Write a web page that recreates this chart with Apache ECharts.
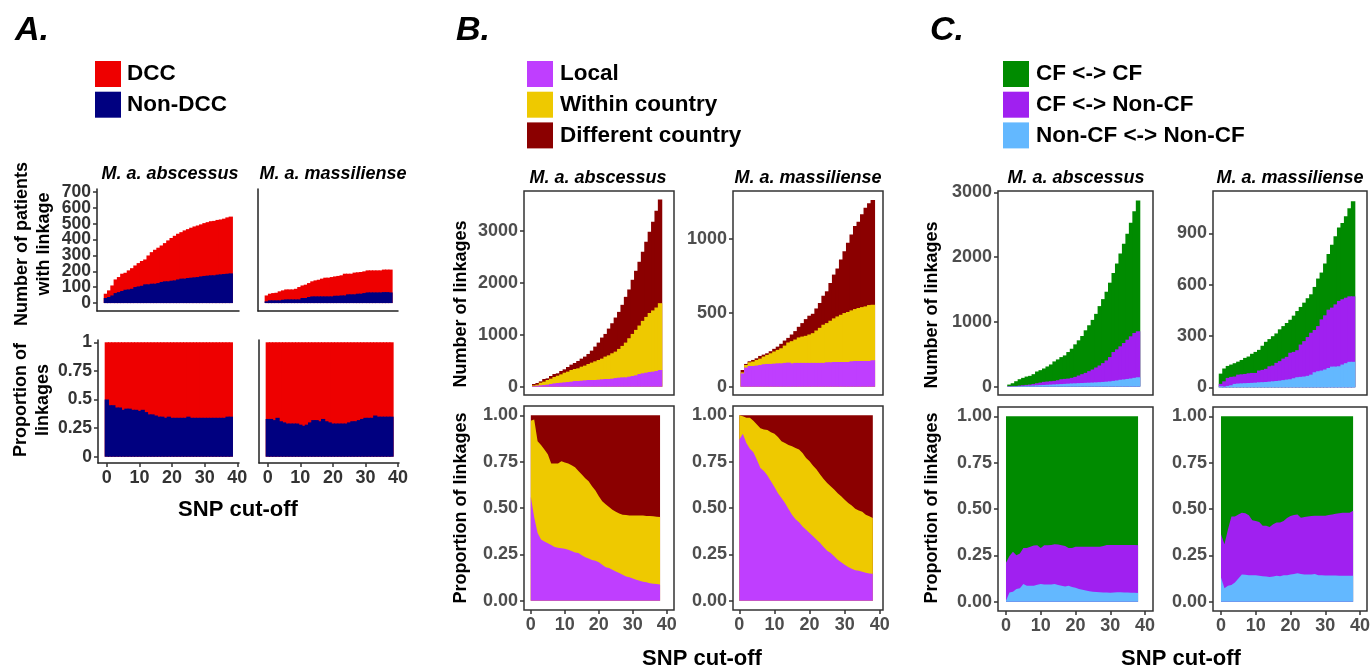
<!DOCTYPE html>
<html><head><meta charset="utf-8">
<script src="https://cdn.jsdelivr.net/npm/echarts@6/dist/echarts.min.js"></script>
<style>html,body{margin:0;padding:0;background:#fff}#c{width:1372px;height:672px}</style>
</head><body><div id="c"></div>
<script>
// ---------- DATA ----------
const snp0 = [0,1,2,3,4,5,6,7,8,9,10,11,12,13,14,15,16,17,18,19,20,21,22,23,24,25,26,27,28,29,30,31,32,33,34,35,36,37,38];
const snp1 = [1,2,3,4,5,6,7,8,9,10,11,12,13,14,15,16,17,18,19,20,21,22,23,24,25,26,27,28,29,30,31,32,33,34,35,36,37,38];
const xTicks = [0,10,20,30,40];
const aCountTicksEven = [0,200,400,600];
const aCountTicksOdd  = [100,300,500,700];

// Panel A: number of patients with linkage (all patients, and Non-DCC)
const aAbsAll    = [59,80,111,149,164,185,191,206,220,237,252,265,275,300,321,336,349,363,378,395,410,424,437,447,458,466,475,483,489,496,504,510,516,518,524,527,532,540,545];
const aAbsNonDCC = [32,38,48,63,69,76,84,86,90,101,105,109,118,118,122,122,126,133,137,137,141,143,149,154,154,158,160,162,164,168,171,173,175,175,179,181,183,185,187];
const aMasAll    = [48,59,63,65,74,80,86,86,86,90,101,111,116,126,137,143,147,154,160,160,164,168,171,175,185,185,185,192,194,196,200,206,206,206,206,206,211,211,211];
const aMasNonDCC = [11,17,17,17,17,21,23,23,23,23,23,32,32,38,42,42,42,42,42,42,42,46,46,48,48,55,55,55,59,59,63,67,67,67,67,67,69,69,67];
// Panel A: proportion of linkages Non-DCC
const aAbsPropNonDCC = [0.50,0.45,0.45,0.43,0.43,0.41,0.42,0.42,0.41,0.41,0.40,0.41,0.39,0.37,0.37,0.36,0.35,0.35,0.34,0.35,0.34,0.34,0.34,0.34,0.34,0.35,0.34,0.34,0.34,0.34,0.34,0.34,0.34,0.34,0.34,0.34,0.34,0.35,0.35];
const aMasPropNonDCC = [0.33,0.33,0.32,0.34,0.31,0.30,0.29,0.29,0.29,0.29,0.28,0.27,0.28,0.30,0.32,0.32,0.31,0.33,0.31,0.30,0.29,0.29,0.29,0.29,0.29,0.30,0.31,0.31,0.32,0.33,0.34,0.34,0.34,0.36,0.35,0.35,0.35,0.35,0.35];

// Panel B: number of linkages (cumulative tops: all / local+within / local)
const bAbsAll    = [52,71,103,148,161,206,245,258,303,335,380,425,457,496,541,580,631,695,773,850,947,1017,1120,1223,1333,1442,1578,1732,1874,2061,2234,2408,2601,2795,2988,3181,3393,3606];
const bAbsWithin = [26,39,77,97,129,155,187,212,238,270,290,322,341,354,386,406,438,464,489,515,541,580,605,644,676,728,786,850,934,1017,1095,1179,1269,1345,1420,1470,1526,1610];
const bAbsLocal  = [13,19,26,32,39,52,64,71,77,84,90,97,109,109,116,122,129,129,129,135,142,148,148,155,167,174,180,180,193,206,219,245,258,270,283,290,303,322];
const bMasAll    = [113,154,172,181,192,208,217,226,240,256,271,290,312,330,353,376,405,430,457,480,493,529,566,615,645,701,758,799,860,916,973,1029,1086,1115,1165,1210,1240,1262];
const bMasWithin = [97,147,165,170,181,190,204,215,226,238,249,260,278,299,308,319,333,339,344,353,362,380,398,419,430,446,462,475,486,498,505,516,525,532,538,543,552,554];
const bMasLocal  = [90,129,140,140,143,147,152,154,154,156,158,158,161,163,158,161,161,161,161,161,161,161,161,161,165,165,167,167,167,167,167,172,174,174,174,174,174,179];
// Panel B: proportions (cumulative tops)
const bAbsPropWithin = [0.97,0.977,0.86,0.84,0.815,0.79,0.74,0.74,0.74,0.752,0.746,0.74,0.73,0.72,0.70,0.68,0.66,0.644,0.617,0.594,0.563,0.536,0.52,0.505,0.49,0.48,0.47,0.464,0.462,0.46,0.46,0.46,0.459,0.46,0.457,0.457,0.455,0.453,0.451];
const bAbsPropLocal  = [0.56,0.45,0.365,0.33,0.32,0.31,0.30,0.29,0.285,0.283,0.28,0.275,0.268,0.26,0.257,0.245,0.234,0.228,0.22,0.216,0.207,0.194,0.18,0.176,0.167,0.158,0.149,0.14,0.131,0.126,0.12,0.113,0.108,0.103,0.099,0.094,0.092,0.09,0.088];
const bMasPropWithin = [1.0,0.995,0.986,0.986,0.97,0.95,0.93,0.923,0.92,0.908,0.90,0.883,0.86,0.85,0.84,0.833,0.824,0.815,0.797,0.77,0.752,0.728,0.707,0.68,0.656,0.635,0.617,0.60,0.58,0.563,0.545,0.527,0.513,0.496,0.486,0.48,0.464,0.455,0.446];
const bMasPropLocal  = [0.87,0.90,0.85,0.82,0.80,0.76,0.716,0.70,0.675,0.644,0.613,0.58,0.554,0.527,0.495,0.464,0.44,0.423,0.40,0.383,0.365,0.347,0.329,0.311,0.29,0.27,0.257,0.24,0.221,0.207,0.194,0.182,0.173,0.165,0.162,0.156,0.151,0.147,0.146];

// Panel C: number of linkages (cumulative tops: all / CF-nonCF + nonCF / nonCF-nonCF)
const cAbsAll   = [31,52,83,114,135,155,166,192,233,254,280,311,342,389,420,456,482,534,585,653,715,782,870,948,1031,1124,1244,1352,1466,1606,1756,1902,2057,2207,2363,2534,2710,2876];
const cAbsMixed = [8,10,10,16,21,26,31,41,52,62,73,78,83,88,98,114,119,124,135,150,171,192,212,238,264,295,326,363,404,456,534,575,622,674,725,777,829,855];
const cAbsNonCF = [3,5,6,8,10,13,14,16,20,23,25,28,30,33,36,39,42,45,48,50,53,55,58,60,62,65,68,72,76,80,88,95,105,110,118,125,135,144];
const cMasAll   = [80,110,125,133,141,150,160,172,180,196,207,219,243,266,282,299,315,339,358,376,395,419,446,470,495,521,544,587,636,671,724,779,834,883,935,961,1000,1047,1088];
const cMasMixed = [20,35,55,61,63,74,76,78,82,84,84,98,102,108,123,127,143,153,168,178,202,207,217,250,270,294,319,335,358,397,421,454,466,485,505,515,524,532,532];
const cMasNonCF = [6,4,8,12,20,22,23,24,25,26,27,29,30,31,33,35,37,39,42,45,47,53,59,61,63,67,74,88,94,98,104,113,121,121,123,133,141,149,149];
// Panel C: proportions (cumulative tops)
const cAbsPropMixed = [0.21,0.247,0.27,0.25,0.26,0.29,0.29,0.297,0.303,0.305,0.29,0.305,0.305,0.306,0.31,0.308,0.305,0.30,0.29,0.29,0.296,0.297,0.297,0.297,0.297,0.297,0.297,0.297,0.30,0.306,0.306,0.306,0.306,0.306,0.306,0.306,0.306,0.306,0.305];
const cAbsPropNonCF = [0.005,0.05,0.054,0.068,0.073,0.095,0.086,0.086,0.086,0.091,0.095,0.093,0.093,0.093,0.095,0.09,0.086,0.082,0.086,0.08,0.075,0.068,0.065,0.061,0.057,0.054,0.052,0.051,0.05,0.05,0.049,0.05,0.051,0.051,0.05,0.05,0.049,0.048,0.047];
const cMasPropMixed = [0.364,0.31,0.39,0.459,0.459,0.47,0.48,0.477,0.466,0.44,0.435,0.43,0.41,0.41,0.403,0.418,0.427,0.427,0.435,0.452,0.462,0.468,0.47,0.453,0.457,0.459,0.462,0.464,0.464,0.464,0.464,0.468,0.47,0.475,0.477,0.48,0.48,0.48,0.49];
const cMasPropNonCF = [0.13,0.072,0.086,0.09,0.104,0.125,0.147,0.145,0.143,0.143,0.143,0.14,0.138,0.136,0.133,0.136,0.14,0.138,0.143,0.143,0.147,0.15,0.154,0.149,0.147,0.147,0.147,0.149,0.143,0.143,0.142,0.142,0.141,0.141,0.14,0.14,0.14,0.14,0.14];

// ---------- STYLE / LAYOUT ----------
const FONT = '"Liberation Sans", Arial, Helvetica, sans-serif';
const COL = {
  dcc:'#EE0000', nondcc:'#000080',
  local:'#BF3EFF', within:'#EEC900', diff:'#8B0000',
  cfcf:'#008B00', cfnon:'#A020F0', nonnon:'#63B8FF'
};
const L = [
  {id:'ATL', l:97,  t:189, w:142, h:122, xmin:-2.7, xmax:40.5, ymin:-50, ymax:719, yt:aCountTicksEven, yt2:aCountTicksOdd, classic:true, ylab:true, xlab:false},
  {id:'ATR', l:258, t:189, w:140, h:122, xmin:-2.7, xmax:40.3, ymin:-50, ymax:719, yt:[], classic:true, ylab:false, xlab:false},
  {id:'ABL', l:98,  t:340, w:141, h:123, xmin:-2.7, xmax:40.5, ymin:-0.055, ymax:1.02, yt:[0,0.25,0.5,0.75,1], classic:true, ylab:true, xlab:true},
  {id:'ABR', l:259, t:340, w:140, h:123, xmin:-2.7, xmax:40.3, ymin:-0.055, ymax:1.02, yt:[], classic:true, ylab:false, xlab:true},
  {id:'BTL', l:524, t:191, w:150, h:204, xmin:-2,   xmax:42.1, ymin:-160, ymax:3772, yt:[0,1000,2000,3000], ylab:true, xlab:false},
  {id:'BTR', l:733, t:191, w:150, h:204, xmin:-1.8, xmax:40.9, ymin:-56, ymax:1323, yt:[0,500,1000], ylab:true, xlab:false},
  {id:'BBL', l:524, t:406, w:150, h:204, xmin:-2,   xmax:42.1, ymin:-0.05, ymax:1.05, yt:[0,0.25,0.5,0.75,1], ylab:true, xlab:true, fix2:true},
  {id:'BBR', l:733, t:406, w:150, h:204, xmin:-1.8, xmax:40.9, ymin:-0.05, ymax:1.05, yt:[0,0.25,0.5,0.75,1], ylab:true, xlab:true, fix2:true},
  {id:'CTL', l:998, t:191, w:155, h:204, xmin:-2.3, xmax:42.3, ymin:-130, ymax:3023, yt:[0,1000,2000,3000], ylab:true, xlab:false},
  {id:'CTR', l:1213,t:191, w:154, h:204, xmin:-2.3, xmax:42.0, ymin:-45, ymax:1148, yt:[0,300,600,900], ylab:true, xlab:false},
  {id:'CBL', l:998, t:407, w:155, h:204, xmin:-2.3, xmax:42.3, ymin:-0.05, ymax:1.05, yt:[0,0.25,0.5,0.75,1], ylab:true, xlab:true, fix2:true},
  {id:'CBR', l:1213,t:407, w:154, h:204, xmin:-2.3, xmax:42.0, ymin:-0.05, ymax:1.05, yt:[0,0.25,0.5,0.75,1], ylab:true, xlab:true, fix2:true}
];
const idx = {}; L.forEach((g,i)=>idx[g.id]=i);

const grids = [], xAxes = [], yAxes = [], series = [], extraY = [];
function yAxisDef(g, i, ticks, showLine){
  const labCol = g.classic ? '#333' : '#4d4d4d';
  return {type:'value', gridIndex:i, position:'left', offset:0, min:g.ymin, max:g.ymax,
    axisLine:{show:showLine, onZero:false, lineStyle:{color:'#222', width:1.5}},
    axisTick:{show:g.ylab, length:4, customValues:ticks, lineStyle:{color:'#333', width:1.5}},
    axisLabel:{show:g.ylab, customValues:ticks, margin:6, color:labCol, fontFamily:FONT, fontWeight:'bold',
      fontSize: g.classic ? 17.5 : 18,
      showMinLabel:true, showMaxLabel:true, hideOverlap:false,
      formatter: v => g.fix2 ? Number(v).toFixed(2) : String(v)},
    splitLine:{show:false}};
}
L.forEach((g,i)=>{
  grids.push({left:g.l, top:g.t, width:g.w, height:g.h, show:!g.classic, borderColor:'#333', borderWidth:1.5,
              backgroundColor:'transparent', containLabel:false, outerBoundsMode:'none'});
  const labCol = g.classic ? '#333' : '#4d4d4d';
  xAxes.push({type:'value', gridIndex:i, position:'bottom', min:g.xmin, max:g.xmax,
    axisLine:{show:!!g.classic, onZero:false, lineStyle:{color:'#222', width:1.5}},
    axisTick:{show:g.xlab, length:4, customValues:xTicks, lineStyle:{color:'#333', width:1.5}},
    axisLabel:{show:g.xlab, customValues:xTicks, margin:6, color:labCol, fontFamily:FONT, fontWeight:'bold', fontSize:18,
      showMinLabel:true, showMaxLabel:true, hideOverlap:false},
    splitLine:{show:false}});
  yAxes.push(yAxisDef(g, i, g.yt, !!g.classic));
  if (g.yt2) extraY.push(yAxisDef(g, i, g.yt2, false));
});
extraY.forEach(a=>yAxes.push(a));

function bw(g){ return g.w/(g.xmax-g.xmin) + 1; }
function bars(id, xs, layers){ // layers: [[values,color],...] drawn back to front
  const i = idx[id], g = L[i];
  layers.forEach(([vals,color])=>{
    series.push({type:'bar', xAxisIndex:i, yAxisIndex:i, barWidth:bw(g), barGap:'-100%',
      data: xs.map((x,k)=>[x, vals[k]]), itemStyle:{color}, silent:true});
  });
}
function areas(id, xs, layers){
  const i = idx[id];
  layers.forEach(([vals,color])=>{
    series.push({type:'line', xAxisIndex:i, yAxisIndex:i, symbol:'none', silent:true,
      data: xs.map((x,k)=>[x, vals[k]]), lineStyle:{width:0, color}, areaStyle:{color, opacity:1}});
  });
}
const ones = snp0.map(()=>1); // proportions sum to 1

bars('ATL', snp0, [[aAbsAll, COL.dcc],[aAbsNonDCC, COL.nondcc]]);
bars('ATR', snp0, [[aMasAll, COL.dcc],[aMasNonDCC, COL.nondcc]]);
bars('ABL', snp0, [[ones, COL.dcc],[aAbsPropNonDCC, COL.nondcc]]);
bars('ABR', snp0, [[ones, COL.dcc],[aMasPropNonDCC, COL.nondcc]]);

bars('BTL', snp1, [[bAbsAll, COL.diff],[bAbsWithin, COL.within],[bAbsLocal, COL.local]]);
bars('BTR', snp1, [[bMasAll, COL.diff],[bMasWithin, COL.within],[bMasLocal, COL.local]]);
areas('BBL', snp0, [[ones, COL.diff],[bAbsPropWithin, COL.within],[bAbsPropLocal, COL.local]]);
areas('BBR', snp0, [[ones, COL.diff],[bMasPropWithin, COL.within],[bMasPropLocal, COL.local]]);

bars('CTL', snp1, [[cAbsAll, COL.cfcf],[cAbsMixed, COL.cfnon],[cAbsNonCF, COL.nonnon]]);
bars('CTR', snp0, [[cMasAll, COL.cfcf],[cMasMixed, COL.cfnon],[cMasNonCF, COL.nonnon]]);
areas('CBL', snp0, [[ones, COL.cfcf],[cAbsPropMixed, COL.cfnon],[cAbsPropNonCF, COL.nonnon]]);
areas('CBR', snp0, [[ones, COL.cfcf],[cMasPropMixed, COL.cfnon],[cMasPropNonCF, COL.nonnon]]);

// ---------- TEXT ----------
const gfx = [];
function txt(x,y,text,size,opt){
  opt = opt||{};
  const font = (opt.italic?'italic ':'') + 'bold ' + size + 'px ' + FONT;
  gfx.push({type:'text', x, y, rotation: opt.rot||0, silent:true,
    style:{text, font, fill: opt.fill||'#000', x:0, y:0,
      textAlign: opt.align||'center', align: opt.align||'center',
      textVerticalAlign:'middle', verticalAlign:'middle'}});
}
function rect(x,y,w,h,color){
  gfx.push({type:'rect', shape:{x,y,width:w,height:h}, style:{fill:color}, silent:true});
}
// panel letters
txt(15, 31, 'A.', 34, {italic:true, align:'left'});
txt(456, 31, 'B.', 34, {italic:true, align:'left'});
txt(930, 31, 'C.', 34, {italic:true, align:'left'});
// legends
const legA = [['DCC',COL.dcc],['Non-DCC',COL.nondcc]];
const legB = [['Local',COL.local],['Within country',COL.within],['Different country',COL.diff]];
const legC = [['CF <-> CF',COL.cfcf],['CF <-> Non-CF',COL.cfnon],['Non-CF <-> Non-CF',COL.nonnon]];
function legend(items, sx, tx){
  items.forEach(([name,color],k)=>{
    const y = 61 + k*30.7;
    rect(sx, y, 26, 26, color);
    txt(tx, y+13, name, 22.5, {align:'left'});
  });
}
legend(legA, 95, 127);
legend(legB, 527, 560);
legend(legC, 1003, 1036);
// facet titles
[['M. a. abscessus',170,174],['M. a. massiliense',333,174],
 ['M. a. abscessus',598,178],['M. a. massiliense',808,178],
 ['M. a. abscessus',1076,178],['M. a. massiliense',1290,178]].forEach(([t,x,y])=>txt(x,y,t,18,{italic:true}));
// y titles
txt(22, 244, 'Number of patients', 18, {rot:Math.PI/2});
txt(44, 244, 'with linkage', 18, {rot:Math.PI/2});
txt(21, 400, 'Proportion of', 18, {rot:Math.PI/2});
txt(43, 400, 'linkages', 18, {rot:Math.PI/2});
txt(461, 304, 'Number of linkages', 18, {rot:Math.PI/2});
txt(461, 508, 'Proportion of linkages', 18, {rot:Math.PI/2});
txt(932, 305, 'Number of linkages', 18, {rot:Math.PI/2});
txt(932, 508, 'Proportion of linkages', 18, {rot:Math.PI/2});
// x titles
txt(238, 510, 'SNP cut-off', 22);
txt(702, 659, 'SNP cut-off', 22);
txt(1181, 659, 'SNP cut-off', 22);

const chart = echarts.init(document.getElementById('c'), null, {renderer:'canvas'});
chart.setOption({
  animation:false, backgroundColor:'#fff',
  grid:grids, xAxis:xAxes, yAxis:yAxes, series, graphic:{elements:gfx}
});
</script></body></html>
